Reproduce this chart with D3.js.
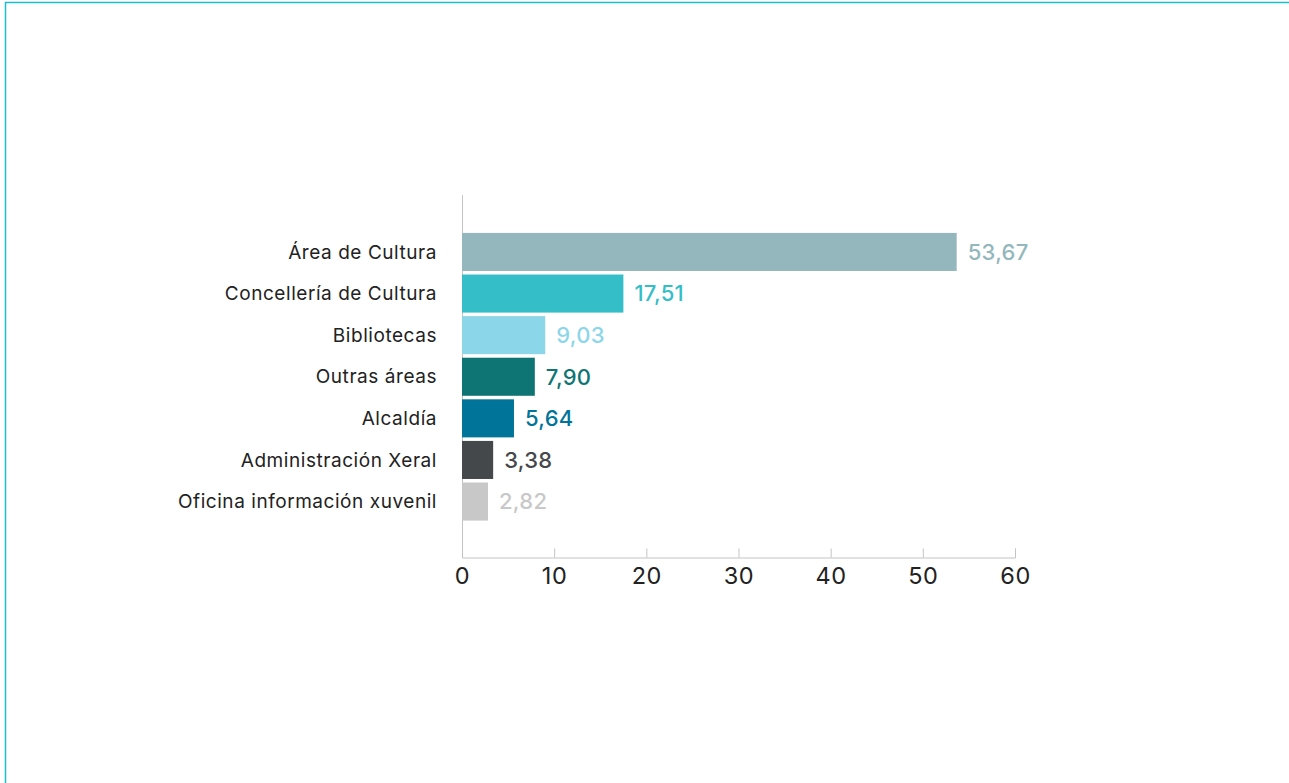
<!DOCTYPE html>
<html><head><meta charset="utf-8">
<script src="https://cdn.jsdelivr.net/npm/d3@7"></script>
<style>
html,body{margin:0;padding:0;background:#fff;}
svg{display:block;font-family:Inter,"Noto Sans",sans-serif;}
</style></head>
<body>
<svg id="chart" width="1289" height="783"></svg>
<script>
const categories = ["Área de Cultura","Concellería de Cultura","Bibliotecas","Outras áreas","Alcaldía","Administración Xeral","Oficina información xuvenil"];
const values = [53.67,17.51,9.03,7.90,5.64,3.38,2.82];
const colors = ["#93b7bc","#33bec8","#8bd6e8","#0f7474","#017499","#45484b","#c8c8c9"];
const xTicks = [0,10,20,30,40,50,60];

const svg = d3.select("#chart");
// frame
svg.append("line").attr("x1",5).attr("x2",1289).attr("y1",2.5).attr("y2",2.5).attr("stroke","#1bbfc9").attr("stroke-width",1.5);
svg.append("line").attr("x1",5.5).attr("x2",5.5).attr("y1",2).attr("y2",783).attr("stroke","#1bbfc9").attr("stroke-width",1.5);

const x = d3.scaleLinear().domain([0,60]).range([462,1015]);
const y = d3.scaleBand().domain(categories).range([231.25,522.25]).paddingInner(0.085).paddingOuter(0.04);

// vertical axis line
svg.append("line").attr("x1",462.5).attr("x2",462.5).attr("y1",195).attr("y2",557).attr("stroke","#c4c4c4").attr("stroke-width",1);

// x axis
const ax = svg.append("g").attr("transform","translate(0,557.5)")
  .call(d3.axisBottom(x).tickValues(xTicks).tickSize(-9).tickPadding(10).tickFormat(d3.format("d")));
ax.select(".domain").attr("stroke","#c4c4c4");
ax.selectAll(".tick line").attr("stroke","#c4c4c4");
ax.selectAll(".tick text").attr("font-size",23.5).attr("letter-spacing",0.6).attr("fill","#222").attr("font-family","Inter,'Noto Sans',sans-serif");

// bars
svg.selectAll("rect.bar").data(categories).join("rect").attr("class","bar")
  .attr("x",x(0)).attr("y",d=>y(d)).attr("width",(d,i)=>x(values[i])-x(0)).attr("height",y.bandwidth())
  .attr("fill",(d,i)=>colors[i]);

// category labels
svg.selectAll("text.cat").data(categories).join("text").attr("class","cat")
  .attr("x",437).attr("y",d=>y(d)+y.bandwidth()/2).attr("dy","0.35em")
  .attr("text-anchor","end").attr("font-size",19).attr("letter-spacing",0.55).attr("fill","#222").text(d=>d);

// value labels
const fmt = v => d3.format(".2f")(v).replace(".",",");
svg.selectAll("text.val").data(categories).join("text").attr("class","val")
  .attr("x",(d,i)=>x(values[i])+11).attr("y",d=>y(d)+y.bandwidth()/2).attr("dy","0.36em")
  .attr("font-size",22).attr("letter-spacing",0.3).attr("font-weight",500).attr("fill",(d,i)=>colors[i]).text((d,i)=>fmt(values[i]));
</script>
</body></html>
